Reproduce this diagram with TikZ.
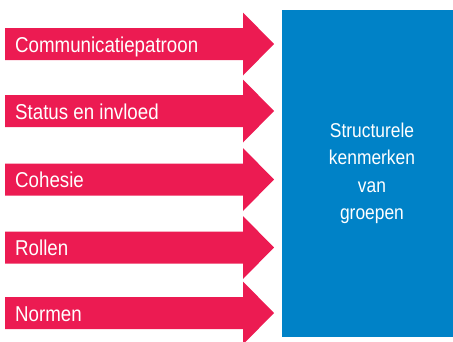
\documentclass[tikz,border=0pt]{standalone}
\usepackage{fontspec}
\usepackage{xcolor}
\usepackage{tikz}
\usetikzlibrary{positioning}

\newfontfamily\smalfont[FakeStretch=0.87]{Liberation Sans}
\definecolor{pijlrood}{RGB}{236,27,82}
\definecolor{blokblauw}{RGB}{0,130,199}

\begin{document}
\begin{tikzpicture}[
    x=1pt,
    y=-1pt,
    pijl/.style={
        fill=pijlrood
    },
    kenmerk/.style={
        anchor=base west,
        inner sep=0pt,
        text=white,
        font=\smalfont\fontsize{21.5}{24}\selectfont
    },
    blok/.style={
        fill=blokblauw,
        minimum width=180pt,
        minimum height=327pt,
        align=center,
        text=white,
        font=\smalfont\fontsize{20}{27.5}\selectfont
    }
]
\clip (0,0) rectangle (453,341);

% Define box
\node[blok] (groep) at (372,173.5) {Structurele\\kenmerken\\van\\groepen};

% Define arrows
\foreach \y/\naam/\tekst in {44/comm/Communicatiepatroon,
                             111/status/Status en invloed,
                             179.5/cohesie/Cohesie,
                             247.5/rollen/Rollen,
                             313/normen/Normen}{
    \fill[pijl] (5,\y-16) -- (243,\y-16) -- (243,\y-31.5) -- (274,\y)
        -- (243,\y+31.5) -- (243,\y+16) -- (5,\y+16) -- cycle;
    \node[kenmerk] (\naam) at (15,\y+8) {\tekst};
}

\end{tikzpicture}
\end{document}
